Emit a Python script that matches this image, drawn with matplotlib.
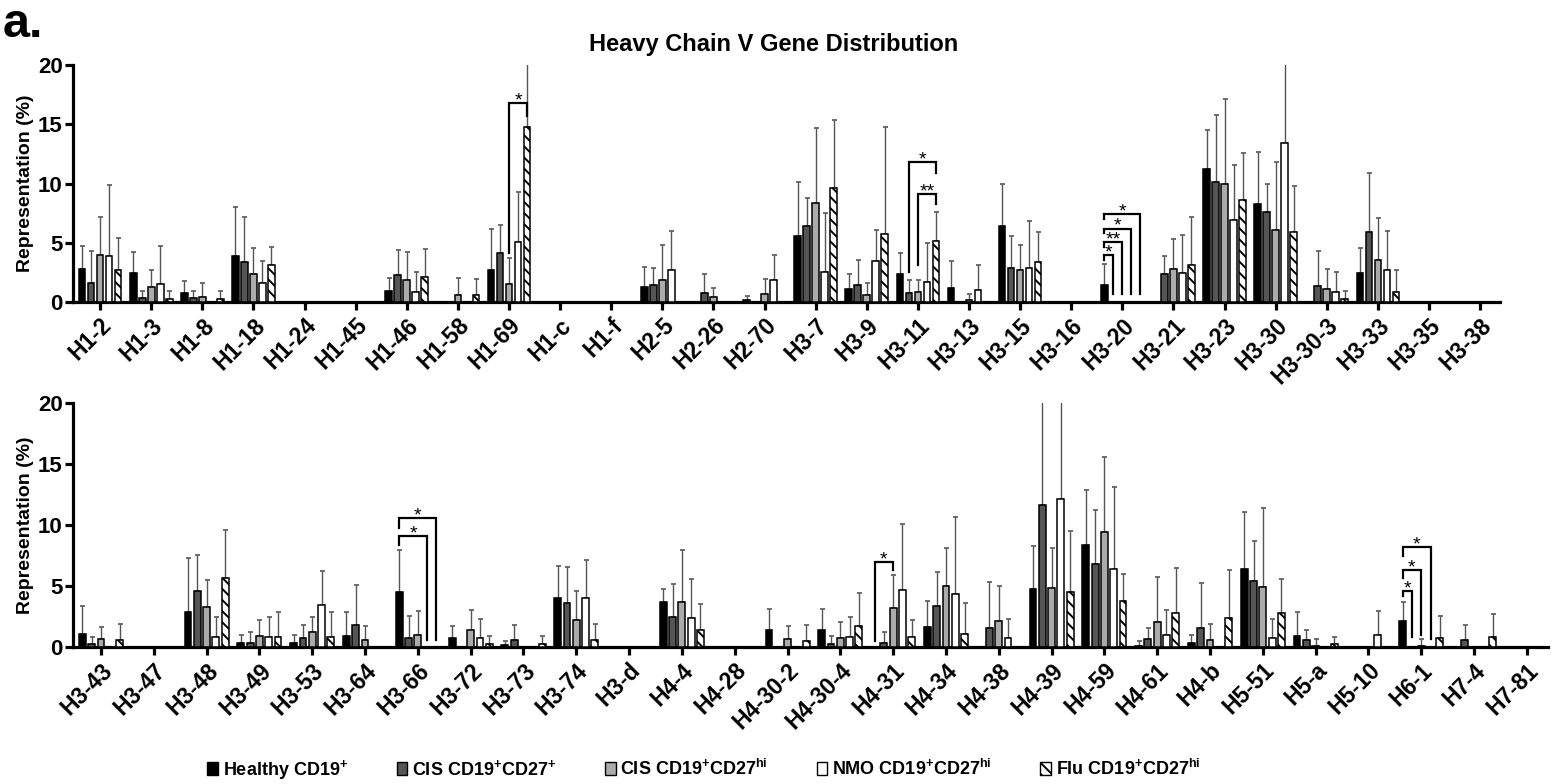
import numpy as np
import matplotlib
matplotlib.use("Agg")
import matplotlib.pyplot as plt
from matplotlib.patches import Patch

plt.rcParams['font.family'] = ['Liberation Sans', 'DejaVu Sans']
plt.rcParams['font.weight'] = 'bold'
plt.rcParams['mathtext.fontset'] = 'custom'
plt.rcParams['mathtext.rm'] = 'Liberation Sans:bold'
plt.rcParams['mathtext.it'] = 'Liberation Sans:bold'
plt.rcParams['mathtext.bf'] = 'Liberation Sans:bold'
plt.rcParams['hatch.linewidth'] = 1.4

# %% data (% representation, mean and upper SD)
series = ["Healthy CD19$^{+}$", "CIS CD19$^{+}$CD27$^{+}$", "CIS CD19$^{+}$CD27$^{hi}$",
          "NMO CD19$^{+}$CD27$^{hi}$", "Flu CD19$^{+}$CD27$^{hi}$"]

top_genes = ["H1-2", "H1-3", "H1-8", "H1-18", "H1-24", "H1-45", "H1-46", "H1-58", "H1-69", "H1-c",
             "H1-f", "H2-5", "H2-26", "H2-70", "H3-7", "H3-9", "H3-11", "H3-13", "H3-15", "H3-16",
             "H3-20", "H3-21", "H3-23", "H3-30", "H3-30-3", "H3-33", "H3-35", "H3-38"]

top_healthy = [2.8, 2.46, 0.76, 3.9, 0, 0, 0.93, 0, 2.68, 0, 0, 1.27, 0, 0.2, 5.54, 1.13, 2.4, 1.16,
               6.38, 0, 1.47, 0, 11.24, 8.25, 0, 2.46, 0, 0]
top_healthy_sd = [1.9, 1.74, 1.04, 4.1, 0, 0, 1.07, 0, 3.52, 0, 0, 1.7, 0, 0.28, 4.56, 1.24, 1.75, 2.26,
                  3.56, 0, 1.75, 0, 3.28, 4.41, 0, 2.12, 0, 0]
top_cis27 = [1.6, 0.3, 0.34, 3.36, 0, 0, 2.29, 0, 4.12, 0, 0, 1.44, 0.73, 0, 6.38, 1.47, 0.76, 0,
             2.85, 0, 0, 2.4, 10.14, 7.57, 1.33, 5.9, 0, 0]
top_cis27_sd = [2.7, 0.63, 0.59, 3.84, 0, 0, 2.11, 0, 2.38, 0, 0, 1.44, 1.64, 0, 2.42, 2.06, 1.08, 0,
                2.71, 0, 0, 1.47, 5.68, 2.43, 2.97, 4.95, 0, 0]
top_cishi = [3.95, 1.27, 0.4, 2.4, 0, 0, 1.86, 0.6, 1.55, 0, 0, 1.86, 0.45, 0.7, 8.33, 0.62, 0.82, 0.14,
             2.71, 0, 0, 2.8, 10.0, 6.1, 1.13, 3.53, 0, 0]
top_cishi_sd = [3.25, 1.43, 1.2, 2.15, 0, 0, 2.38, 1.4, 2.18, 0, 0, 2.97, 0.74, 1.25, 6.33, 0.99, 1.02, 0.51,
                2.09, 0, 0, 2.54, 7.15, 5.74, 1.67, 3.53, 0, 0]
top_nmo = [3.9, 1.55, 0, 1.6, 0, 0, 0.85, 0, 5.1, 0, 0, 2.7, 0, 1.84, 2.51, 3.47, 1.67, 1.05,
           2.85, 0, 0, 2.46, 6.95, 13.42, 0.82, 2.71, 0, 0]
top_nmo_sd = [5.96, 3.15, 0, 1.87, 0, 0, 1.65, 0, 4.2, 0, 0, 3.3, 0, 2.11, 4.99, 2.58, 3.33, 2.05,
              3.95, 0, 0, 3.19, 4.65, 9.0, 1.68, 3.29, 0, 0]
top_flu = [2.7, 0.28, 0.28, 3.16, 0, 0, 2.15, 0.62, 14.8, 0, 0, 0, 0, 0, 9.66, 5.76, 5.11, 0,
           3.39, 0, 0, 3.16, 8.62, 5.88, 0.28, 0.85, 0, 0]
top_flu_sd = [2.7, 0.65, 0.65, 1.47, 0, 0, 2.35, 1.28, 7.0, 0, 0, 0, 0, 0, 5.68, 9.01, 2.52, 0,
              2.49, 0, 0, 4.02, 3.95, 3.89, 0.65, 1.89, 0, 0]

bot_genes = ["H3-43", "H3-47", "H3-48", "H3-49", "H3-53", "H3-64", "H3-66", "H3-72", "H3-73", "H3-74",
             "H3-d", "H4-4", "H4-28", "H4-30-2", "H4-30-4", "H4-31", "H4-34", "H4-38", "H4-39", "H4-59",
             "H4-61", "H4-b", "H5-51", "H5-a", "H5-10", "H6-1", "H7-4", "H7-81"]

bot_healthy = [1.09, 0, 2.87, 0.3, 0.3, 0.9, 4.48, 0.71, 0.16, 4.02, 0, 3.66, 0, 1.39, 1.42, 0, 1.64, 0,
               4.75, 8.39, 0.11, 0.3, 6.37, 0.9, 0, 2.13, 0, 0]
bot_healthy_sd = [2.24, 0, 4.43, 0.68, 0.68, 1.94, 3.44, 1.04, 0.36, 2.65, 0, 1.09, 0, 1.72, 1.69, 0, 2.13, 0,
                  3.56, 4.51, 0.38, 0.68, 4.7, 1.94, 0, 1.56, 0, 0]
bot_cis27 = [0.22, 0, 4.56, 0.36, 0.71, 1.8, 0.74, 0, 0.6, 3.61, 0, 2.46, 0, 0, 0.25, 0.33, 3.36, 1.58,
             11.67, 6.8, 0.66, 1.58, 5.38, 0.57, 0, 0, 0.55, 0]
bot_cis27_sd = [0.63, 0, 2.98, 0.87, 1.07, 3.25, 1.8, 0, 1.23, 2.92, 0, 2.68, 0, 0, 0.62, 0.9, 2.76, 3.75,
                10.0, 4.4, 0.92, 3.69, 3.34, 0.82, 0, 0, 1.23, 0]
bot_cishi = [0.63, 0, 3.25, 0.9, 1.23, 0.57, 1.01, 1.39, 0, 2.21, 0, 3.69, 0, 0.63, 0.77, 3.2, 4.97, 2.1,
             4.84, 9.4, 2.02, 0.57, 4.92, 0.11, 0, 0.11, 0, 0]
bot_cishi_sd = [1.04, 0, 2.24, 1.31, 1.23, 1.12, 1.94, 1.61, 0, 2.38, 0, 4.23, 0, 1.09, 1.25, 2.7, 3.17, 2.87,
                3.27, 6.15, 3.72, 1.29, 6.5, 0.55, 0, 0.55, 0, 0]
bot_nmo = [0, 0, 0.79, 0.79, 3.44, 0, 0, 0.77, 0, 4.02, 0, 2.4, 0, 0, 0.79, 4.67, 4.32, 0.71,
           12.16, 6.37, 0.98, 0, 0.71, 0, 0.96, 0, 0, 0]
bot_nmo_sd = [0, 0, 1.67, 1.67, 2.76, 0, 0, 1.53, 0, 3.08, 0, 3.17, 0, 0, 1.67, 5.41, 6.31, 1.56,
              9.0, 6.74, 2.08, 0, 1.59, 0, 1.99, 0, 0, 0]
bot_flu = [0.57, 0, 5.68, 0.85, 0.85, 0, 0, 0.22, 0.25, 0.57, 0, 1.42, 0, 0.52, 1.75, 0.85, 1.09, 0,
           4.51, 3.77, 2.76, 2.38, 2.81, 0.25, 0, 0.74, 0.79, 0]
bot_flu_sd = [1.32, 0, 3.94, 2.02, 2.02, 0, 0, 0.65, 0.62, 1.32, 0, 2.1, 0, 1.28, 2.68, 1.34, 2.52, 0,
              4.97, 2.21, 3.72, 3.93, 2.74, 0.57, 0, 1.77, 1.91, 0]

# significance brackets: (gene index, left series, right series, top, left leg end, right leg end, label)
top_sig = [(8, 2, 4, 16.8, 4.15, 15.7, "*"),
           (16, 1, 4, 11.84, 2.5, 10.9, "*"),
           (16, 2, 4, 9.1, 3.16, 8.25, "**"),
           (20, 0, 1, 3.93, 3.55, 0.68, "*"),
           (20, 0, 2, 5.06, 4.65, 0.68, "**"),
           (20, 0, 3, 6.2, 5.8, 0.68, "*"),
           (20, 0, 4, 7.43, 7.0, 0.68, "*")]
bot_sig = [(6, 0, 3, 9.07, 8.39, 0.6, "*"),
           (6, 0, 4, 10.57, 9.75, 0.6, "*"),
           (15, 0, 2, 6.97, 0.49, 6.28, "*"),
           (25, 0, 1, 4.62, 4.15, 0.79, "*"),
           (25, 0, 2, 6.28, 5.66, 0.98, "*"),
           (25, 0, 3, 8.22, 7.43, 0.66, "*")]

# %% styling
face = ["black", "#555555", "#ababab", "white", "white"]
hatch = [None, None, None, None, "\\\\\\"]
step = 0.176
width = 0.13


def draw_panel(ax, genes, vals, sds, sig, right_lim):
    x0 = np.arange(len(genes))
    for s in range(5):
        v = np.array(vals[s], dtype=float)
        sd = np.array(sds[s], dtype=float)
        keep = v > 0
        xs = x0[keep] + (s - 2) * step
        ax.bar(xs, v[keep], width=width, color=face[s], edgecolor="black",
               linewidth=1.1, hatch=hatch[s], zorder=3)
        has_err = keep & (sd > 0)
        xe = x0[has_err] + (s - 2) * step
        _, caps, bars = ax.errorbar(xe, v[has_err], yerr=[np.zeros(has_err.sum()), sd[has_err]],
                                    fmt="none", ecolor="#555555", elinewidth=1.0,
                                    capsize=1.8, capthick=1.2, zorder=2)
        for c in caps:
            c.set_color("black")
    for gi, a, b, top, lend, rend, lab in sig:
        xa = gi + (a - 2) * step
        xb = gi + (b - 2) * step
        ax.plot([xa, xa, xb, xb], [lend, top, top, rend], color="black", lw=1.6,
                solid_joinstyle="miter", zorder=4)
        ax.text((xa + xb) / 2, top - 0.2, lab, ha="center", va="baseline",
                fontsize=14, fontweight="normal", zorder=4)

    ax.set_xlim(-0.53, right_lim)
    ax.set_ylim(0, 20)
    ax.set_yticks([0, 5, 10, 15, 20])
    ax.set_xticks(x0)
    ax.set_xticklabels(genes, rotation=45, ha="right", rotation_mode="anchor")
    ax.tick_params(axis="both", width=2.3, length=5.5)
    ax.tick_params(axis="x", labelsize=16.5, pad=3)
    ax.tick_params(axis="y", labelsize=16, pad=2)
    for sp in ["top", "right"]:
        ax.spines[sp].set_visible(False)
    for sp in ["left", "bottom"]:
        ax.spines[sp].set_linewidth(2.3)
    ax.set_ylabel("Representation (%)", fontsize=14, fontweight="bold", labelpad=3)


fig = plt.figure(figsize=(15.57, 7.84), dpi=100)
ax1 = fig.add_axes([0.0469, 0.6148, 0.9165, 0.3022])
ax2 = fig.add_axes([0.0469, 0.1747, 0.9473, 0.3113])

draw_panel(ax1, top_genes,
           [top_healthy, top_cis27, top_cishi, top_nmo, top_flu],
           [top_healthy_sd, top_cis27_sd, top_cishi_sd, top_nmo_sd, top_flu_sd],
           top_sig, 27.39)
draw_panel(ax2, bot_genes,
           [bot_healthy, bot_cis27, bot_cishi, bot_nmo, bot_flu],
           [bot_healthy_sd, bot_cis27_sd, bot_cishi_sd, bot_nmo_sd, bot_flu_sd],
           bot_sig, 27.4)

fig.text(0.497, 0.943, "Heavy Chain V Gene Distribution", ha="center", va="center",
         fontsize=17, fontweight="bold")
fig.text(0.002, 0.94, "a.", ha="left", va="bottom", fontsize=35, fontweight="bold")

handles = [Patch(facecolor=face[s], edgecolor="black", hatch=hatch[s], linewidth=1.0) for s in range(5)]
fig.legend(handles, series, loc="lower center", bbox_to_anchor=(0.452, -0.018), ncol=5,
           frameon=False, handlelength=0.6, handleheight=0.8, handletextpad=0.25,
           columnspacing=2.7, prop={"weight": "bold", "size": 13})

fig.savefig("out.png", dpi=100)
